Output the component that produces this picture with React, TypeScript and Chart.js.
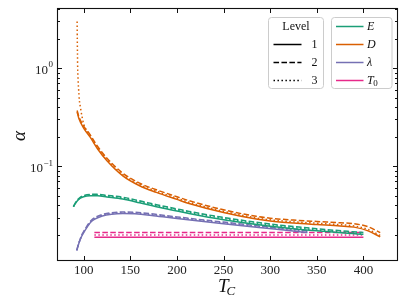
import React, { useEffect, useRef } from 'react';
import { Chart, registerables } from 'chart.js';

Chart.register(...registerables);

// ---- data ----
const tE = [89, 92, 96, 100, 107, 115, 125, 142, 160, 178, 200, 213, 250, 300, 350, 400];
const E1 = [0.0387, 0.043, 0.047, 0.049, 0.0501, 0.05, 0.0487, 0.0464, 0.0425, 0.0387, 0.035, 0.033, 0.0285, 0.0245, 0.022, 0.0203];
const E2 = [0.039, 0.0436, 0.048, 0.0503, 0.0517, 0.0518, 0.0506, 0.0484, 0.0445, 0.0406, 0.0368, 0.0347, 0.0301, 0.0258, 0.0231, 0.0211];
const E3 = [0.0388, 0.0433, 0.0475, 0.0497, 0.051, 0.0509, 0.0497, 0.0474, 0.0435, 0.0397, 0.0359, 0.0339, 0.0294, 0.0251, 0.0225, 0.0206];

const tD = [93, 95, 100, 107, 115, 125, 142, 160, 178, 200, 213, 250, 285, 300, 325, 350, 375, 390, 405, 418];
const D1 = [0.357, 0.305, 0.245, 0.198, 0.15, 0.114, 0.08, 0.0634, 0.0542, 0.046, 0.0418, 0.0338, 0.029, 0.0277, 0.0264, 0.0255, 0.0247, 0.024, 0.022, 0.0191];
const D2 = [0.37, 0.318, 0.257, 0.209, 0.159, 0.121, 0.085, 0.0673, 0.0576, 0.049, 0.0446, 0.036, 0.0309, 0.0296, 0.0283, 0.0274, 0.0266, 0.026, 0.0242, 0.0211];
const tD3 = [93.0, 93.2, 93.4, 93.6, 94, 94.5, 95.4, 96.5, 98, 100, 107, 115, 125, 142, 160, 178, 200, 213, 250, 285, 300, 325, 350, 375, 390, 405, 418];
const D3 = [2.98, 1.9, 1.35, 1.0, 0.78, 0.63, 0.47, 0.4, 0.33, 0.27, 0.205, 0.155, 0.117, 0.082, 0.0652, 0.0557, 0.0473, 0.043, 0.0348, 0.0298, 0.0285, 0.0272, 0.0263, 0.0254, 0.0247, 0.0227, 0.0197];

const tL = [92.6, 95, 98, 101.5, 105, 108, 112, 120, 130, 142, 155, 175, 200, 250, 288, 320, 340];
const L1 = [0.0139, 0.0165, 0.0195, 0.0222, 0.025, 0.0272, 0.029, 0.0312, 0.0325, 0.033, 0.0328, 0.0314, 0.0294, 0.026, 0.0238, 0.0222, 0.0211];
const L2 = [0.014, 0.0167, 0.0199, 0.0228, 0.0258, 0.0281, 0.03, 0.0323, 0.0337, 0.0342, 0.034, 0.0326, 0.0305, 0.027, 0.0247, 0.0231, 0.022];
const L3 = [0.0139, 0.0166, 0.0197, 0.0225, 0.0254, 0.0276, 0.0295, 0.0317, 0.0331, 0.0336, 0.0334, 0.032, 0.03, 0.0265, 0.0243, 0.0227, 0.0216];

const tT0 = [111.5, 400];
const T01 = [0.0189, 0.0189];
const T02 = [0.0211, 0.0211];
const T03 = [0.0199, 0.0199];

const xTickValues = [100, 150, 200, 250, 300, 350, 400];
const yMajorValues = [0.1, 1];
const yMajorExponents = ['−1', '0'];
const yMinorValues = [0.02, 0.03, 0.04, 0.05, 0.06, 0.07, 0.08, 0.09, 0.2, 0.3, 0.4, 0.5, 0.6, 0.7, 0.8, 0.9, 2, 3, 4];
const xRange = [72.5, 436];
const yRange = [0.0111, 4.0];

const levelTitle = 'Level';
const levelNames = ['1', '2', '3'];
const quantityNames = ['E', 'D', 'λ', 'T'];
const quantitySubs = ['', '', '', '0'];
const xTitle = 'T';
const xTitleSub = 'C';
const yTitle = 'α';

const COLORS = ['#1b9e77', '#d95f02', '#7570b3', '#e7298a'];
const DASHES: number[][] = [[], [5.55, 2.4], [1.5, 2.475]];

const SERIES = [
  { q: 0, lv: 0, t: tE, v: E1 },
  { q: 1, lv: 0, t: tD, v: D1 },
  { q: 2, lv: 0, t: tL, v: L1 },
  { q: 3, lv: 0, t: tT0, v: T01 },
  { q: 0, lv: 1, t: tE, v: E2 },
  { q: 1, lv: 1, t: tD, v: D2 },
  { q: 2, lv: 1, t: tL, v: L2 },
  { q: 3, lv: 1, t: tT0, v: T02 },
  { q: 0, lv: 2, t: tE, v: E3 },
  { q: 1, lv: 2, t: tD3, v: D3 },
  { q: 2, lv: 2, t: tL, v: L3 },
  { q: 3, lv: 2, t: tT0, v: T03 },
];

const SERIF = '"Liberation Serif", "DejaVu Serif", serif';

function roundRect(ctx: CanvasRenderingContext2D, x: number, y: number, w: number, h: number, r: number) {
  ctx.beginPath();
  ctx.moveTo(x + r, y);
  ctx.lineTo(x + w - r, y);
  ctx.arcTo(x + w, y, x + w, y + r, r);
  ctx.lineTo(x + w, y + h - r);
  ctx.arcTo(x + w, y + h, x + w - r, y + h, r);
  ctx.lineTo(x + r, y + h);
  ctx.arcTo(x, y + h, x, y + h - r, r);
  ctx.lineTo(x, y + r);
  ctx.arcTo(x, y, x + r, y, r);
  ctx.closePath();
}

const framePlugin = {
  id: 'frame',
  afterDraw(chart: any) {
    const { ctx, chartArea } = chart;
    const { left, right, top, bottom } = chartArea;
    const xs = chart.scales.x;
    const ys = chart.scales.y;
    ctx.save();
    ctx.strokeStyle = '#111';
    ctx.lineWidth = 1;
    // ticks
    ctx.beginPath();
    xTickValues.forEach((v) => {
      const p = Math.round(xs.getPixelForValue(v)) + 0.5;
      ctx.moveTo(p, bottom); ctx.lineTo(p, bottom - 4);
      ctx.moveTo(p, top); ctx.lineTo(p, top + 4);
    });
    yMajorValues.forEach((v) => {
      const p = Math.round(ys.getPixelForValue(v)) + 0.5;
      ctx.moveTo(left, p); ctx.lineTo(left + 4, p);
      ctx.moveTo(right, p); ctx.lineTo(right - 4, p);
    });
    yMinorValues.forEach((v) => {
      const p = Math.round(ys.getPixelForValue(v)) + 0.5;
      ctx.moveTo(left, p); ctx.lineTo(left + 2, p);
      ctx.moveTo(right, p); ctx.lineTo(right - 2, p);
    });
    ctx.stroke();
    // frame
    ctx.lineWidth = 1.1;
    ctx.strokeRect(Math.round(left) - 0.5, Math.round(top) - 0.5, Math.round(right - left) + 1, Math.round(bottom - top) + 1);

    // y tick labels
    ctx.fillStyle = '#222';
    ctx.textBaseline = 'middle';
    yMajorValues.forEach((v, i) => {
      const p = ys.getPixelForValue(v);
      ctx.font = `9px ${SERIF}`;
      const ew = ctx.measureText(yMajorExponents[i]).width;
      const xe = left - 5 - ew;
      ctx.textAlign = 'left';
      ctx.fillText(yMajorExponents[i], xe, p - 3);
      ctx.font = `13px ${SERIF}`;
      ctx.textAlign = 'right';
      ctx.fillText('10', xe - 0.5, p + 2);
    });

    // axis titles
    ctx.fillStyle = '#111';
    ctx.save();
    ctx.translate(20, 136);
    ctx.rotate(-Math.PI / 2);
    ctx.textAlign = 'center';
    ctx.textBaseline = 'middle';
    ctx.font = `italic 19px ${SERIF}`;
    ctx.fillText(yTitle, 0, 0);
    ctx.restore();

    ctx.textBaseline = 'alphabetic';
    ctx.textAlign = 'left';
    ctx.font = `italic 19px ${SERIF}`;
    const tw = ctx.measureText(xTitle).width;
    const tx = 218;
    ctx.fillText(xTitle, tx, 292);
    ctx.font = `italic 13px ${SERIF}`;
    ctx.fillText(xTitleSub, tx + tw - 2, 295);

    // legends
    const boxes = [
      { x: 268.5, w: 55 },
      { x: 331.5, w: 60.5 },
    ];
    boxes.forEach((b) => {
      roundRect(ctx, b.x, 17.5, b.w, 71, 3);
      ctx.fillStyle = 'rgba(255,255,255,0.8)';
      ctx.fill();
      ctx.strokeStyle = '#cccccc';
      ctx.lineWidth = 1;
      ctx.stroke();
    });
    ctx.fillStyle = '#111';
    ctx.font = `12px ${SERIF}`;
    ctx.textAlign = 'center';
    ctx.textBaseline = 'middle';
    ctx.fillText(levelTitle, 296, 26.5);
    const rowsL = [44.5, 62.5, 80.5];
    levelNames.forEach((n, i) => {
      ctx.strokeStyle = '#000';
      ctx.lineWidth = 1.5;
      ctx.setLineDash(DASHES[i]);
      ctx.beginPath();
      ctx.moveTo(273.5, rowsL[i]);
      ctx.lineTo(301.5, rowsL[i]);
      ctx.stroke();
      ctx.setLineDash([]);
      ctx.textAlign = 'left';
      ctx.font = `12px ${SERIF}`;
      ctx.fillText(n, 311.5, rowsL[i] + 0.5);
    });
    const rowsQ = [26.5, 44.5, 62.5, 80.5];
    quantityNames.forEach((n, i) => {
      ctx.strokeStyle = COLORS[i];
      ctx.lineWidth = 1.5;
      ctx.beginPath();
      ctx.moveTo(336, rowsQ[i]);
      ctx.lineTo(363.5, rowsQ[i]);
      ctx.stroke();
      ctx.textAlign = 'left';
      ctx.font = `italic 12px ${SERIF}`;
      ctx.fillText(n, 367, rowsQ[i] + 0.5);
      if (quantitySubs[i]) {
        const w = ctx.measureText(n).width;
        ctx.font = `9px ${SERIF}`;
        ctx.fillText(quantitySubs[i], 367 + w - 0.5, rowsQ[i] + 3.5);
      }
    });
    ctx.restore();
  },
};

export default function App() {
  const ref = useRef<HTMLCanvasElement | null>(null);
  useEffect(() => {
    document.body.style.margin = '0';
    const canvas = ref.current;
    if (!canvas) return;
    const chart = new Chart(canvas, {
      type: 'line',
      data: {
        datasets: SERIES.map((s) => ({
          label: `${quantityNames[s.q]}${quantitySubs[s.q]} ${levelNames[s.lv]}`,
          data: s.t.map((x, i) => ({ x, y: s.v[i] })),
          borderColor: COLORS[s.q],
          borderWidth: 1.5,
          borderDash: DASHES[s.lv],
          pointRadius: 0,
          fill: false,
          cubicInterpolationMode: 'monotone' as const,
        })),
      },
      options: {
        responsive: false,
        animation: false,
        devicePixelRatio: 1,
        layout: { padding: { left: 0, right: 10, top: 9, bottom: 0 } },
        plugins: { legend: { display: false }, tooltip: { enabled: false } },
        scales: {
          x: {
            type: 'linear',
            min: xRange[0],
            max: xRange[1],
            afterBuildTicks: (s: any) => {
              s.ticks = xTickValues.map((value) => ({ value }));
            },
            afterFit: (s: any) => {
              s.height = 45;
            },
            grid: { display: false, drawTicks: false },
            border: { display: false },
            ticks: {
              autoSkip: false,
              maxRotation: 0,
              padding: 3,
              color: '#222',
              font: { family: SERIF, size: 13 },
              callback: (v: any) => String(v),
            },
          },
          y: {
            type: 'logarithmic',
            min: yRange[0],
            max: yRange[1],
            afterFit: (s: any) => {
              s.width = 58;
            },
            grid: { display: false },
            border: { display: false },
            ticks: { display: false },
          },
        },
      },
      plugins: [framePlugin],
    });
    return () => chart.destroy();
  }, []);
  return (
    <div style={{ position: 'absolute', left: 0, top: 0, width: 407, height: 305 }}>
      <canvas ref={ref} width={407} height={305} style={{ width: 407, height: 305, display: 'block' }} />
    </div>
  );
}
